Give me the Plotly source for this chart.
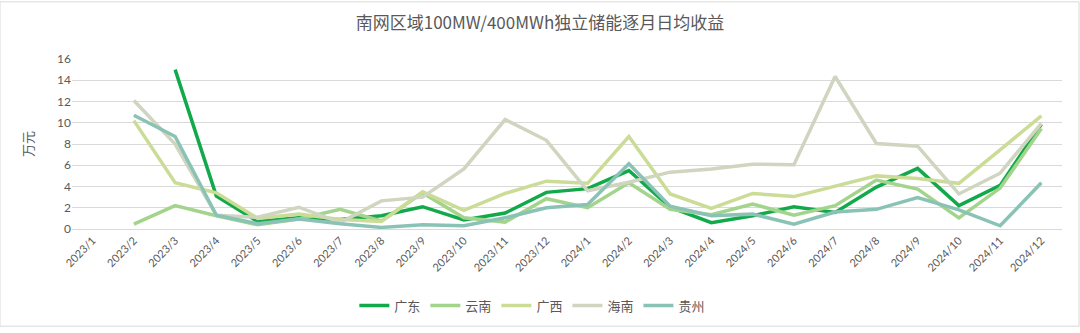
import plotly.graph_objects as go

months = [f"2023/{m}" for m in range(1, 13)] + [f"2024/{m}" for m in range(1, 13)]

guangdong = [None, None, 15.0, 3.1, 0.7, 1.05, 0.9, 1.25, 2.1, 0.85, 1.5, 3.45,
             3.8, 5.5, 2.05, 0.6, 1.25, 2.1, 1.55, 3.95, 5.7, 2.2, 4.1, 9.85]
yunnan = [None, 0.45, 2.2, 1.25, 0.4, 0.95, 1.85, 0.75, 3.4, 1.05, 0.65, 2.85,
          2.0, 4.35, 1.85, 1.35, 2.35, 1.3, 2.2, 4.6, 3.75, 1.05, 3.85, 9.45]
guangxi = [None, 10.2, 4.35, 3.4, 1.0, 1.4, 0.9, 0.7, 3.5, 1.75, 3.35, 4.5,
           4.3, 8.7, 3.3, 1.95, 3.35, 3.05, 4.0, 5.0, 4.75, 4.3, 7.45, 10.65]
hainan = [None, 12.1, 8.0, 1.3, 1.1, 2.05, 0.6, 2.65, 3.0, 5.65, 10.3, 8.35,
          3.6, 4.4, 5.35, 5.65, 6.1, 6.05, 14.35, 8.05, 7.8, 3.3, 5.25, 9.95]
guizhou = [None, 10.7, 8.7, 1.3, 0.5, 0.95, 0.5, 0.15, 0.4, 0.3, 1.05, 2.0,
           2.3, 6.15, 2.15, 1.25, 1.4, 0.45, 1.6, 1.85, 2.95, 1.8, 0.3, 4.35]

series = [
    ("广东", guangdong, "#12A94B"),
    ("云南", yunnan, "#A3D48C"),
    ("广西", guangxi, "#CBDC96"),
    ("海南", hainan, "#CFD5BF"),
    ("贵州", guizhou, "#8AC3B5"),
]

fig = go.Figure()
for name, vals, color in series:
    fig.add_trace(go.Scatter(
        x=months, y=vals, name=name, mode="lines",
        line=dict(color=color, width=3.5),
        connectgaps=False,
    ))

font_family = "Noto Sans CJK SC, Noto Sans, sans-serif"

fig.update_layout(
    width=1080, height=333,
    margin=dict(l=72, r=18, t=59, b=100),
    paper_bgcolor="white", plot_bgcolor="white",
    font=dict(family=font_family, color="#595959", size=12),
    title=dict(text="南网区域100MW/400MWh独立储能逐月日均收益",
               x=0.5, xanchor="center", y=0.93, yanchor="middle",
               font=dict(size=17, color="#595959", family=font_family)),
    legend=dict(orientation="h", x=0.465, xanchor="center", y=-0.45, yanchor="middle",
                font=dict(size=13, color="#595959"), itemwidth=30,
                tracegroupgap=0, bgcolor="rgba(0,0,0,0)"),
    showlegend=True,
    xaxis=dict(
        type="category", tickangle=-45,
        tickfont=dict(size=11, color="#595959", family="Lato, sans-serif"),
        showgrid=False, showline=True, linecolor="#d9d9d9", linewidth=1,
        ticks="", range=[-0.5, 23.5], automargin=False,
    ),
    yaxis=dict(
        range=[0, 16], dtick=2, showgrid=True, gridcolor="#d9d9d9", gridwidth=1,
        zeroline=False, showline=False,
        tickfont=dict(size=12, color="#595959", family="Lato, sans-serif"),
        title=dict(text="万元", font=dict(size=13, color="#595959"), standoff=20),
    ),
)
fig.add_shape(type="rect", xref="paper", yref="paper",
              x0=-72/990, x1=1079/990 - 72/990, y0=(233-332.5)/174, y1=(233-0.5)/174,
              line=dict(color="#d9d9d9", width=1), fillcolor="rgba(0,0,0,0)", layer="below")

fig.write_html("out.html")
